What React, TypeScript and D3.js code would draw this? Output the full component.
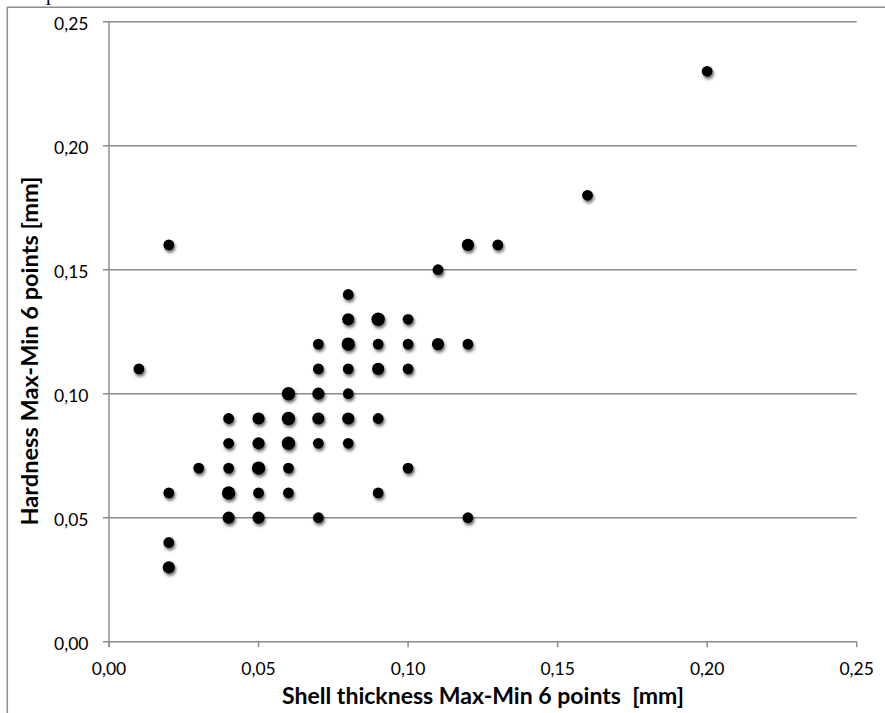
import React from "react";
import * as d3 from "d3";

// Data
const shellThickness = [
  0.01,
  0.02, 0.02, 0.02, 0.02,
  0.03,
  0.04, 0.04, 0.04, 0.04, 0.04,
  0.05, 0.05, 0.05, 0.05, 0.05,
  0.06, 0.06, 0.06, 0.06, 0.06,
  0.07, 0.07, 0.07, 0.07, 0.07, 0.07,
  0.08, 0.08, 0.08, 0.08, 0.08, 0.08, 0.08,
  0.09, 0.09, 0.09, 0.09, 0.09,
  0.10, 0.10, 0.10, 0.10,
  0.11, 0.11,
  0.12, 0.12, 0.12,
  0.13,
  0.16,
  0.20,
];
const hardness = [
  0.11,
  0.16, 0.06, 0.04, 0.03,
  0.07,
  0.09, 0.08, 0.07, 0.06, 0.05,
  0.09, 0.08, 0.07, 0.06, 0.05,
  0.10, 0.09, 0.08, 0.07, 0.06,
  0.12, 0.11, 0.10, 0.09, 0.08, 0.05,
  0.14, 0.13, 0.12, 0.11, 0.10, 0.09, 0.08,
  0.13, 0.12, 0.11, 0.09, 0.06,
  0.13, 0.12, 0.11, 0.07,
  0.15, 0.12,
  0.16, 0.12, 0.05,
  0.16,
  0.18,
  0.23,
];
// how many samples coincide at each point (drawn as a heavier marker)
const overlap = [
  1,
  1, 1, 1, 2,
  1,
  1, 1, 1, 3, 2,
  2, 2, 3, 1, 2,
  3, 3, 3, 1, 1,
  1, 1, 2, 2, 1, 1,
  1, 2, 3, 1, 1, 2, 1,
  3, 1, 2, 1, 1,
  1, 1, 1, 1,
  1, 2,
  2, 1, 1,
  1,
  1,
  1,
];

const tickValues = [0, 0.05, 0.1, 0.15, 0.2, 0.25];
const tickLabels = ["0,00", "0,05", "0,10", "0,15", "0,20", "0,25"];

const xTitle = "Shell thickness Max-Min 6 points  [mm]";
const yTitle = "Hardness Max-Min 6 points [mm]";

const W = 885;
const H = 713;
const LEFT = 109;
const RIGHT = 856.7;
const TOP = 21.7;
const BOTTOM = 641.7;
const AXIS = "#8c8c8c";
const FONT = "Lato, 'Open Sans', sans-serif";

export default function App() {
  const x = d3.scaleLinear().domain([0, 0.25]).range([LEFT, RIGHT]);
  const y = d3.scaleLinear().domain([0, 0.25]).range([BOTTOM, TOP]);
  const r = d3.scaleOrdinal<number, number>().domain([1, 2, 3]).range([5.4, 6.1, 6.7]);

  const points = shellThickness.map((v, i) => ({ x: v, y: hardness[i], n: overlap[i] }));

  return (
    <svg
      width={W}
      height={H}
      style={{ position: "absolute", left: 0, top: 0, background: "#fff" }}
    >
      <defs>
        <filter id="shadow" x="-60%" y="-60%" width="220%" height="220%">
          <feDropShadow dx="1.2" dy="2.4" stdDeviation="1.5" floodColor="#000" floodOpacity="0.6" />
        </filter>
      </defs>
      <rect x={0} y={0} width={W} height={H} fill="#fff" />
      {/* cut-off fragment of text above the chart (as in the reference) */}
      <text x={46} y={0} fontFamily="'Liberation Serif', serif" fontSize={20} fill="#000">
        p
      </text>
      {/* outer chart border */}
      <path d={`M7.3,${H + 5} V7.3 H${W + 5}`} fill="none" stroke={AXIS} strokeWidth={1.5} />

      {/* horizontal gridlines + y ticks */}
      {tickValues.map((t, i) => (
        <g key={"gy" + i}>
          <line x1={LEFT - 6} x2={RIGHT} y1={y(t)} y2={y(t)} stroke={AXIS} strokeWidth={1.5} />
          <text
            x={88.5}
            y={y(t) + 8.5}
            textAnchor="end"
            fontFamily={FONT}
            fontSize={17.5}
            fill="#000"
          >
            {tickLabels[i]}
          </text>
        </g>
      ))}
      {/* y axis */}
      <line x1={LEFT} x2={LEFT} y1={TOP} y2={BOTTOM + 5} stroke={AXIS} strokeWidth={1.5} />
      {/* x ticks */}
      {tickValues.map((t, i) => (
        <g key={"gx" + i}>
          <line x1={x(t)} x2={x(t)} y1={BOTTOM} y2={BOTTOM + 5.5} stroke={AXIS} strokeWidth={1.5} />
          <text
            x={x(t)}
            y={675}
            textAnchor="middle"
            fontFamily={FONT}
            fontSize={17.5}
            fill="#000"
          >
            {tickLabels[i]}
          </text>
        </g>
      ))}

      {/* points */}
      <g filter="url(#shadow)">
        {points.map((p, i) => (
          <circle key={i} cx={x(p.x)} cy={y(p.y)} r={r(p.n)} fill="#000" />
        ))}
      </g>

      {/* axis titles */}
      <text
        x={483}
        y={704}
        textAnchor="middle"
        fontFamily={FONT}
        fontWeight="bold"
        fontSize={22}
        textLength={402}
        lengthAdjust="spacingAndGlyphs"
        style={{ whiteSpace: "pre" }}
        fill="#000"
      >
        {xTitle}
      </text>
      <text
        transform={`translate(37.5,351) rotate(-90)`}
        textAnchor="middle"
        fontFamily={FONT}
        fontWeight="bold"
        fontSize={22}
        textLength={349}
        lengthAdjust="spacingAndGlyphs"
        fill="#000"
      >
        {yTitle}
      </text>
    </svg>
  );
}
